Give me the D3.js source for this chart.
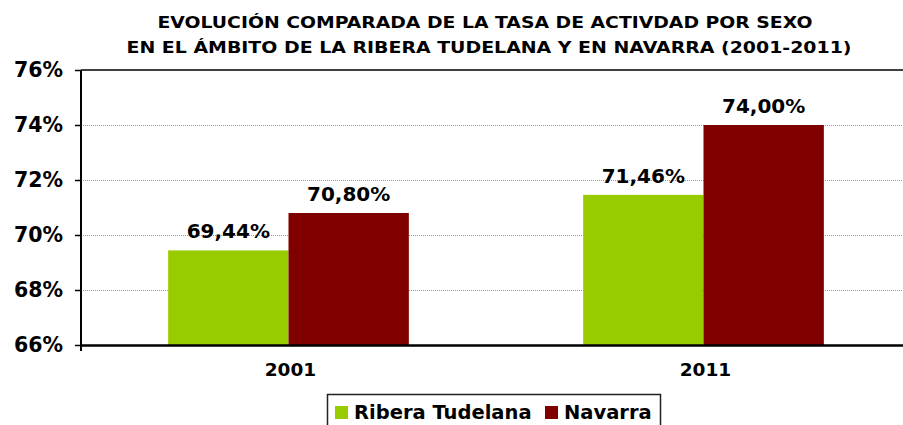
<!DOCTYPE html>
<html lang="es">
<head>
<meta charset="UTF-8">
<title>Tasa de actividad</title>
<script src="https://d3js.org/d3.v7.min.js"></script>
<style>
  body { margin: 0; background: #fff; }
  text { font-family: "DejaVu Sans", Verdana, sans-serif; font-weight: bold; fill: #000; }
</style>
</head>
<body>
<div id="chart"></div>
<script>
  const years = ["2001", "2011"];
  const seriesNames = ["Ribera Tudelana", "Navarra"];
  const ribera = [69.44, 71.46];
  const navarra = [70.80, 74.00];
  const yTicks = [66, 68, 70, 72, 74, 76];
  const colors = ["#99cc00", "#800000"];

  const W = 903, H = 425;
  const margin = {top: 70, right: -8, bottom: 80, left: 81};
  const width = W - margin.left - margin.right,
        height = H - margin.top - margin.bottom;

  const svg = d3.select("#chart").append("svg")
      .attr("width", W).attr("height", H);

  // title
  svg.append("text").attr("x", 485).attr("y", 28).attr("text-anchor", "middle")
    .style("font-size", "16.5px").attr("textLength", 655).attr("lengthAdjust", "spacingAndGlyphs")
    .text("EVOLUCIÓN COMPARADA DE LA TASA DE ACTIVDAD POR SEXO");
  svg.append("text").attr("x", 489).attr("y", 53).attr("text-anchor", "middle")
    .style("font-size", "16.5px").attr("textLength", 725).attr("lengthAdjust", "spacingAndGlyphs")
    .text("EN EL ÁMBITO DE LA RIBERA TUDELANA Y EN NAVARRA (2001-2011)");

  const g = svg.append("g").attr("transform", `translate(${margin.left},${margin.top})`);

  const x0 = d3.scaleBand().domain(years).range([0, width]);
  const x1 = d3.scaleBand().domain(seriesNames).range([0, x0.bandwidth() * 0.58])
  const groupOffset = (x0.bandwidth() - x1.range()[1]) / 2;
  const y = d3.scaleLinear().domain([66, 76]).range([height, 0]);

  // gridlines
  g.selectAll("line.grid").data(yTicks.slice(1, -1)).join("line")
    .attr("class", "grid")
    .attr("x1", 0).attr("x2", width)
    .attr("y1", d => y(d) + 0.5).attr("y2", d => y(d) + 0.5)
    .attr("stroke", "#999").attr("stroke-dasharray", "1,1");
  // top border
  g.append("line").attr("x1", 0).attr("x2", width)
    .attr("y1", y(76)).attr("y2", y(76)).attr("stroke", "#000").attr("stroke-width", 1.5);

  const data = years.map((yr, i) => ({year: yr, vals: [ribera[i], navarra[i]]}));

  const groups = g.selectAll("g.grp").data(data).join("g")
    .attr("transform", d => `translate(${x0(d.year) + groupOffset},0)`);

  groups.selectAll("rect").data(d => d.vals.map((v, j) => ({name: seriesNames[j], v, j}))).join("rect")
    .attr("x", d => x1(d.name))
    .attr("width", x1.bandwidth())
    .attr("y", d => y(d.v))
    .attr("height", d => y(66) - y(d.v))
    .attr("fill", d => colors[d.j]);

  groups.selectAll("text.val").data(d => d.vals.map((v, j) => ({name: seriesNames[j], v, j}))).join("text")
    .attr("class", "val")
    .attr("x", d => x1(d.name) + x1.bandwidth() / 2)
    .attr("y", d => y(d.v) - 12)
    .attr("text-anchor", "middle")
    .style("font-size", "20px")
    .text(d => d3.format(".2f")(d.v).replace(".", ",") + "%");

  // y axis
  const yAxis = g.append("g")
    .call(d3.axisLeft(y).tickValues(yTicks).tickSize(6).tickFormat(d => d + "%"));
  yAxis.select(".domain").attr("stroke-width", 2).attr("d", `M0,${height + 6}V0`);
  yAxis.selectAll(".tick line").attr("stroke-width", 1.5);
  yAxis.selectAll(".tick text").attr("x", -18).style("font-size", "20.5px")
    .style("font-family", "DejaVu Sans").style("font-weight", "bold");

  // x axis
  const xAxis = g.append("g").attr("transform", `translate(0,${height})`)
    .call(d3.axisBottom(x0).tickSize(0).tickPadding(18));
  xAxis.select(".domain").attr("stroke-width", 2.5);
  xAxis.selectAll(".tick").attr("transform", d => `translate(${x0(d) + x0.bandwidth() / 2 + 2},0)`);
  xAxis.selectAll(".tick text").style("font-size", "18.5px")
    .style("font-family", "DejaVu Sans").style("font-weight", "bold");

  // legend
  const leg = svg.append("g");
  leg.append("rect").attr("x", 327.5).attr("y", 394.5).attr("width", 333).attr("height", 34)
    .attr("fill", "#fff").attr("stroke", "#222").attr("stroke-width", 1.5);
  const legX = [335, 545];
  seriesNames.forEach((n, i) => {
    leg.append("rect").attr("x", legX[i]).attr("y", 406).attr("width", 13).attr("height", 13)
      .attr("fill", colors[i]);
    leg.append("text").attr("x", legX[i] + 19).attr("y", 419).style("font-size", "19.5px").text(n);
  });
</script>
</body>
</html>
